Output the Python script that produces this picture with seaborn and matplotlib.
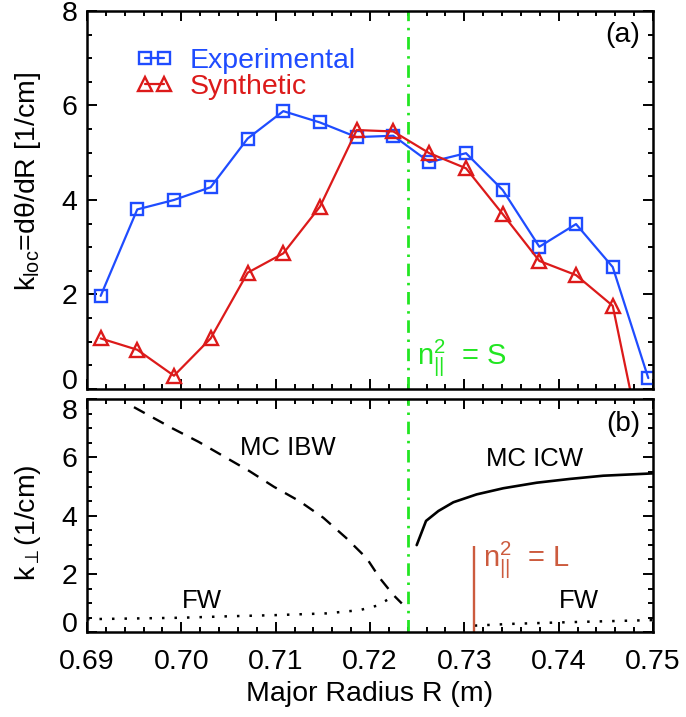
import matplotlib
matplotlib.use("Agg")
import matplotlib.pyplot as plt
from matplotlib.ticker import MultipleLocator
import pandas as pd
import seaborn as sns

# ---- panel (a): local wavenumber along the major radius ----
radius_a = [0.69145, 0.69533, 0.69922, 0.70311, 0.70703, 0.71081, 0.71470, 0.71859,
            0.72247, 0.72629, 0.73018, 0.73407, 0.73795, 0.74184, 0.74573, 0.74950]
k_experimental = [1.97, 3.80, 4.00, 4.27, 5.30, 5.88, 5.64, 5.33,
                  5.36, 4.80, 4.99, 4.21, 3.01, 3.49, 2.58, 0.23]
k_synthetic = [1.07, 0.83, 0.28, 1.07, 2.46, 2.87, 3.86, 5.48,
               5.45, 4.99, 4.67, 3.70, 2.71, 2.41, 1.76, -1.87]

# ---- panel (b): perpendicular wavenumber of the wave branches ----
ibw_r = [0.69498, 0.69908, 0.70184, 0.70452, 0.70721, 0.70982, 0.71251, 0.71505,
         0.71746, 0.71965, 0.72106, 0.72248, 0.72337]
ibw_k = [7.72, 6.99, 6.53, 6.03, 5.53, 4.99, 4.50, 3.93,
         3.24, 2.54, 1.85, 1.28, 0.99]
fw_in_r = [0.6900, 0.7000, 0.7050, 0.7100, 0.7154, 0.7189, 0.7207, 0.7216, 0.7223]
fw_in_k = [0.45, 0.50, 0.55, 0.59, 0.65, 0.76, 0.91, 1.07, 1.20]
icw_r = [0.72495, 0.72594, 0.72725, 0.72884, 0.73131, 0.73413, 0.73767, 0.74120, 0.74473, 0.75000]
icw_k = [2.99, 3.82, 4.16, 4.46, 4.73, 4.94, 5.13, 5.26, 5.37, 5.45]
fw_out_r = [0.7311, 0.7350, 0.7402, 0.7450, 0.7500]
fw_out_k = [0.23, 0.29, 0.34, 0.38, 0.42]

r_s_layer = 0.724      # n_par^2 = S
r_l_cutoff = 0.731     # n_par^2 = L
l_marker_top = 2.95

x_ticks = [0.69, 0.70, 0.71, 0.72, 0.73, 0.74, 0.75]
x_ticklabels = ["0.69", "0.70", "0.71", "0.72", "0.73", "0.74", "0.75"]
y_ticks = [0, 2, 4, 6, 8]
y_ticklabels = ["0", "2", "4", "6", "8"]

BLUE = "#1f4cff"
RED = "#dc1a1a"
GREEN = "#22e622"
RUST = "#cc5b3e"

sns.set_theme(style="ticks")
plt.rcParams.update({
    "font.family": ["Liberation Sans", "DejaVu Sans"],
    "mathtext.fontset": "custom",
    "mathtext.rm": "Liberation Sans",
    "mathtext.it": "Liberation Sans",
    "mathtext.bf": "Liberation Sans:bold",
    "font.size": 20,
    "text.color": "black",
    "axes.labelcolor": "black",
    "axes.linewidth": 1.8,
    "axes.edgecolor": "black",
    "xtick.color": "black",
    "ytick.color": "black",
    "xtick.labelcolor": "black",
    "ytick.labelcolor": "black",
})

fig = plt.figure(figsize=(6.86, 7.17), dpi=100)
ax_a = fig.add_axes([0.1268, 0.4575, 0.8251, 0.5272])
ax_b = fig.add_axes([0.1268, 0.1181, 0.8251, 0.3254])

df_a = pd.DataFrame({"R": radius_a, "exp": k_experimental, "syn": k_synthetic})

sns.lineplot(data=df_a, x="R", y="exp", ax=ax_a, color=BLUE, lw=1.6,
             marker="s", markersize=8.5, markerfacecolor="none",
             markeredgecolor=BLUE, markeredgewidth=1.7, label="Experimental")
sns.lineplot(data=df_a, x="R", y="syn", ax=ax_a, color=RED, lw=1.6,
             marker="^", markersize=9.5, markerfacecolor="none",
             markeredgecolor=RED, markeredgewidth=1.7, label="Synthetic")

dashdot = (0, (4.5, 2.4, 0.9, 2.4))
for ax in (ax_a, ax_b):
    ax.axvline(r_s_layer, color=GREEN, lw=2.0, linestyle=dashdot, zorder=1)

# wave branches
sns.lineplot(x=ibw_r, y=ibw_k, ax=ax_b, color="black", lw=1.7,
             linestyle=(0, (5.2, 4.0)), sort=False)
sns.lineplot(x=fw_in_r, y=fw_in_k, ax=ax_b, color="black", lw=1.8,
             linestyle=(0, (1, 4.0)), sort=False)
sns.lineplot(x=icw_r, y=icw_k, ax=ax_b, color="black", lw=1.9, sort=False)
sns.lineplot(x=fw_out_r, y=fw_out_k, ax=ax_b, color="black", lw=1.8,
             linestyle=(0, (1, 4.0)), sort=False)
ax_b.vlines(r_l_cutoff, 0, l_marker_top, color=RUST, lw=1.7)

for ax in (ax_a, ax_b):
    ax.set_xlim(0.69, 0.75)
    ax.set_ylim(0, 8)
    ax.set_xticks(x_ticks)
    ax.set_yticks(y_ticks)
    ax.set_yticklabels(y_ticklabels)
    ax.xaxis.set_minor_locator(MultipleLocator(0.002))
    ax.yaxis.set_minor_locator(MultipleLocator(0.5))
    ax.tick_params(which="both", direction="in", top=True, right=True,
                   width=1.4, labelsize=20.5)
    ax.tick_params(which="major", length=7.5)
    ax.tick_params(which="minor", length=3.8)
    ax.tick_params(axis="y", pad=7)
    ax.tick_params(axis="x", pad=12)
    for sp in ax.spines.values():
        sp.set_visible(True)
        sp.set_linewidth(1.8)

# end labels sit inside the frame so the two panels' labels stay apart
ax_a.get_yticklabels()[0].set_va("baseline")
ax_b.get_yticklabels()[0].set_va("baseline")
ax_b.get_yticklabels()[-1].set_va("top")

ax_a.set_xticklabels([])
ax_a.set_xlabel("")
ax_b.set_xticklabels(x_ticklabels)

ax_a.set_ylabel(r"k$_{\mathrm{loc}}$=dθ/dR [1/cm]", fontsize=20.5)
ax_b.set_ylabel(r"k$_{\perp}$(1/cm)", fontsize=20.5)
ax_a.yaxis.set_label_coords(-0.078, 0.55)
ax_b.yaxis.set_label_coords(-0.078, 0.47)
ax_b.set_xlabel("Major Radius R (m)", fontsize=20.5, labelpad=4)

leg = ax_a.legend(loc="upper left", bbox_to_anchor=(0.088, 0.902),
                  frameon=False, borderpad=0, borderaxespad=0,
                  handlelength=1.25, handletextpad=0.6, labelspacing=0.0,
                  numpoints=2, fontsize=20.5)
for txt, col in zip(leg.get_texts(), (BLUE, RED)):
    txt.set_color(col)

ax_a.text(0.977, 0.937, "(a)", transform=ax_a.transAxes, ha="right", va="center",
          fontsize=20.5)
ax_a.text(0.583, 0.082, r"$\mathrm{n}_{||}^{2}$  = S", transform=ax_a.transAxes,
          ha="left", va="center", color=GREEN, fontsize=21)

ax_b.text(0.977, 0.893, "(b)", transform=ax_b.transAxes, ha="right", va="center",
          fontsize=20)
ax_b.text(0.270, 0.79, "MC IBW", transform=ax_b.transAxes, ha="left", va="center",
          fontsize=18.5)
ax_b.text(0.705, 0.743, "MC ICW", transform=ax_b.transAxes, ha="left", va="center",
          fontsize=18.5)
ax_b.text(0.168, 0.134, "FW", transform=ax_b.transAxes, ha="left", va="center",
          fontsize=18.5)
ax_b.text(0.834, 0.134, "FW", transform=ax_b.transAxes, ha="left", va="center",
          fontsize=18.5)
ax_b.text(0.700, 0.31, r"$\mathrm{n}_{||}^{2}$  = L", transform=ax_b.transAxes,
          ha="left", va="center", color=RUST, fontsize=21)

fig.savefig("out.png", dpi=100)
